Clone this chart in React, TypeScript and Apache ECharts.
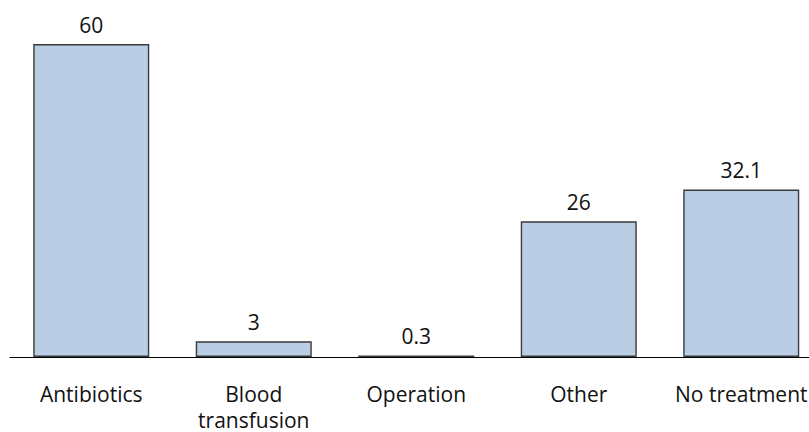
import React, { useEffect, useRef } from "react";
import * as echarts from "echarts";

const categories = ["Antibiotics", "Blood\ntransfusion", "Operation", "Other", "No treatment"];
const values = [60, 3, 0.3, 26, 32.1];
const valueLabels = ["60", "3", "0.3", "26", "32.1"];

export default function App() {
  const ref = useRef<HTMLDivElement>(null);
  useEffect(() => {
    if (!ref.current) return;
    const chart = echarts.init(ref.current, null, { renderer: "svg" });
    chart.setOption({
      animation: false,
      textStyle: { fontFamily: "Open Sans" },
      grid: {
        left: 10,
        width: 812.5,
        top: 44,
        bottom: 75,
        containLabel: false,
        outerBoundsMode: "none",
      },
      xAxis: {
        type: "category",
        data: categories,
        axisLine: { show: true, lineStyle: { color: "#000", width: 1.2 } },
        axisTick: { show: false },
        axisLabel: {
          color: "#111",
          fontSize: 21,
          fontFamily: "Open Sans",
          margin: 24,
          lineHeight: 26,
          interval: 0,
          hideOverlap: false,
        },
      },
      yAxis: {
        type: "value",
        min: 0,
        max: 60,
        show: false,
        splitLine: { show: false },
      },
      series: [
        {
          type: "bar",
          data: values,
          barWidth: 116,
          itemStyle: { color: "#b9cde5", borderColor: "#3a3a3a", borderWidth: 1.4 },
          label: {
            show: true,
            position: "top",
            distance: 9,
            color: "#111",
            fontSize: 21,
            fontFamily: "Open Sans",
            formatter: (p: any) => valueLabels[p.dataIndex],
          },
        },
      ],
    });
    return () => chart.dispose();
  }, []);
  return <div ref={ref} style={{ width: 809, height: 432, position: "absolute", left: 0, top: 0 }} />;
}
